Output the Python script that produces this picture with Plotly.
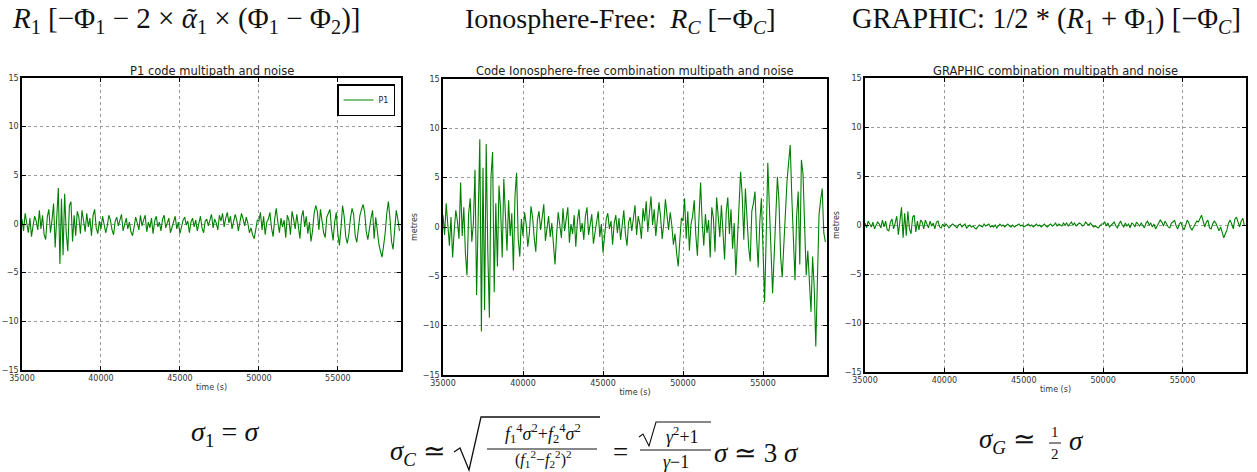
import plotly.graph_objects as go

W, H = 1257, 472

# ---------------- data ----------------
time_s = list(range(35000, 59000, 100))

p1_code = [
    0.5, -0.7, 1.1, 0.2, -0.9, 0.6, -1.3, -0.2, 0.8, 0.3,
    -0.6, 1.4, -0.5, 0.9, -1.1, -1.6, 0.7, 1.5, -0.9, 0.4,
    2.1, -2.4, 1.5, 3.7, -4.1, 2.6, -3.2, 3.1, -0.9, -2.8,
    1.9, 2.3, -1.8, 0.9, -1.2, 1.3,
    0.7, -1.0, 1.4, 0.2, -0.8, 1.1, -0.3, 0.6, -1.2, 0.9, 1.5, -0.4, -1.0, 0.3,
    -0.5, 0.8, 0.1, -0.9, -0.2, 0.9, 0.4, -0.6, -1.1, 0.3,
    0.7, -0.2, 0.4, 1.0, -0.7, -0.1, 0.6, -0.5, 0.2, -0.8,
    -1.2, -0.3, 0.7, 0.1, -0.6, 0.9, -0.2, 0.4, 0.9, -0.8,
    0.2, -0.4, 0.6, -1.0, 0.3, 0.8, -0.3, 0.2, -0.7, 0.5,
    0.9, -0.4, 0.1, 0.6, -0.9, -0.3, 0.4, 0.8, -0.5, 0.2,
    -1.0, -0.4, 0.4, 0.7, -0.1, 0.3, -0.9, 0.2, 0.6, -0.3,
    0.4, -0.7, 0.1, 0.8, -0.4, -0.9, 0.3, 0.5, -0.2, 0.3,
    1.0, -0.4, 0.5, 0.1, -0.6, 0.9, 0.3, 1.1, -0.3, 0.6,
    1.2, 0.1, 0.8, -0.5, 0.3, 1.0, 0.4, -0.7, 0.2, 1.1,
    0.5, -0.2, 0.7, 0.1, -0.9, -0.4, -1.1, -1.5, -0.6, 0.4,
    0.3, 1.2, -0.6, 0.8, -1.1, 0.2, 0.5, 1.2, -0.4, -1.3,
    0.5, 1.6, 0.2, -0.9, 0.6, -0.3, 0.4, -1.4, 0.9, 0.4,
    -1.1, 1.3, 0.5, -0.5, 1.0, -0.2, -1.5, 0.7, 1.4, -0.3,
    0.8, -1.0, 0.2, -1.8, -0.7, 1.1, 1.9, 1.3, -0.6, 1.5,
    0.4, -0.9, -1.4, 0.7, 1.1, 1.5, -0.5, -1.7, 0.2, 1.2,
    -1.0, -2.2, -0.4, 1.9, 0.8, -1.3, -2.0, -1.0, 0.6, 1.6,
    1.0, -1.2, -1.9, -0.6, 0.9, 1.5, 2.0, 1.2, -0.8, -1.6,
    -0.4, 0.6, 1.4, -1.5, 0.7, -0.9, -2.1, -2.8, -3.4, -2.2,
    -0.9, 1.1, 2.3, 0.6, -1.8, -2.6, -0.8, 1.4, 0.5, -0.7,
]

iono_free = [
    1.2, -0.8, 2.4, 0.5, -1.9, 1.0, -3.1, -0.4, 1.7, 0.6,
    -1.2, 4.5, -0.9, 2.0, -2.6, -4.9, 1.3, 2.9, -1.5, 0.4,
    5.8, -6.9, 3.2, 8.9, -10.6, 6.0, -8.4, 8.4, -2.5, -9.2,
    5.1, 7.6, -6.6, 2.4, -4.0, 4.2,
    1.8, -3.1, 4.9, 0.6, -2.4, 2.7, -0.9, 1.4, -4.4, 3.2, 5.5, -1.2, -3.0, 0.8,
    -0.9, 1.5, 0.3, -2.0, -0.6, 2.1, 1.0, -1.1, -2.5, 0.7,
    1.6, -0.3, 0.9, 2.3, -1.4, -0.2, 1.1, -1.0, 0.4, -1.7,
    -3.8, -0.8, 1.5, 0.2, -1.1, 1.9, -0.4, 0.8, 2.0, -1.6,
    0.3, -0.7, 1.2, -2.0, 0.6, 1.8, -0.5, 0.4, -1.3, 1.1,
    2.0, -0.8, 0.2, 1.3, -1.7, -0.6, 0.9, 1.6, -1.0, 0.3,
    -2.6, -0.9, 0.8, 1.4, -0.2, 0.6, -1.8, 0.4, 1.2, -0.6,
    0.9, -1.3, 0.2, 1.7, -0.7, -1.9, 0.5, 1.0, -0.4, 0.7,
    2.2, -0.8, 1.1, 0.3, -1.2, 1.9, 0.6, 2.6, -0.5, 1.4,
    3.1, 0.2, 1.8, -0.9, 0.7, 2.5, 1.0, -1.2, 0.4, 2.8,
    1.2, -0.3, 1.5, 0.2, -1.8, -0.7, -2.6, -4.0, -1.4, 0.9,
    0.6, 2.9, -1.2, 1.6, -2.4, 0.3, 1.1, 2.7, -0.8, -2.9,
    1.0, 4.5, 0.4, -1.9, 1.3, -0.6, 0.7, -3.1, 2.0, 0.9,
    -2.5, 3.0, 1.1, -1.0, 2.2, -0.4, -3.3, 1.5, 3.0, -0.7,
    1.8, -2.2, 0.4, -4.9, -1.6, 2.4, 5.6, 3.2, -1.3, 3.9,
    0.8, -2.0, -3.5, 1.6, 2.4, 3.6, -1.0, -4.1, 0.5, 2.9,
    -2.2, -7.6, -1.0, 6.5, 2.0, -3.4, -6.7, -2.8, 1.4, 5.1,
    2.6, -3.0, -5.1, -1.5, 2.4, 4.6, 6.5, 8.3, 3.1, -2.0,
    -5.4, 1.0, 3.6, -3.8, 6.8, 5.4, 1.2, -4.9, -2.4, -5.2,
    -8.6, -3.0, -6.1, -12.1, -4.0, 1.2, 2.7, 3.9, -0.6, -1.5,
]

graphic = [
    0.2, -0.3, 0.4, 0.1, -0.2, 0.3, -0.4, 0.0, 0.3, 0.1,
    -0.3, 0.5, -0.2, 0.4, -0.5, -0.6, 0.3, 0.6, -0.4, 0.2,
    0.9, -1.0, 0.7, 1.8, -1.3, 1.2, -1.1, 1.4, -0.4, -0.9,
    0.8, 1.0, -0.7, 0.4, -0.5, 0.5,
    0.3, -0.4, 0.5, 0.1, -0.3, 0.4, -0.1, 0.2, -0.4, 0.3, 0.4, -0.2, -0.3, 0.1,
    -0.2, 0.1, -0.1, -0.3, -0.1, 0.1, 0.0, -0.2, -0.3, 0.0,
    0.1, -0.2, 0.0, 0.1, -0.3, -0.1, 0.0, -0.2, -0.1, -0.3,
    -0.4, -0.2, 0.0, -0.1, -0.2, 0.1, -0.1, 0.0, 0.1, -0.2,
    -0.1, -0.2, 0.0, -0.3, -0.1, 0.1, -0.1, 0.0, -0.2, 0.0,
    0.1, -0.1, -0.2, 0.0, -0.2, -0.1, 0.0, 0.1, -0.1, 0.0,
    -0.2, -0.1, 0.0, 0.1, -0.1, 0.0, -0.2, 0.0, 0.1, -0.1,
    0.0, -0.2, 0.0, 0.1, -0.1, -0.2, 0.0, 0.1, -0.1, 0.0,
    0.2, -0.1, 0.1, 0.0, -0.1, 0.2, 0.0, 0.2, -0.1, 0.1,
    0.3, 0.0, 0.2, -0.1, 0.1, 0.2, 0.1, -0.1, 0.0, 0.3,
    0.1, 0.0, 0.2, 0.0, -0.2, -0.1, -0.2, -0.3, -0.1, 0.1,
    0.1, 0.3, -0.1, 0.2, -0.2, 0.0, 0.1, 0.3, -0.1, -0.3,
    0.1, 0.4, 0.0, -0.2, 0.2, -0.1, 0.1, -0.3, 0.2, 0.1,
    -0.2, 0.3, 0.1, -0.1, 0.2, 0.0, -0.3, 0.2, 0.4, 0.0,
    0.2, -0.2, 0.1, -0.4, -0.1, 0.3, 0.5, 0.3, -0.1, 0.4,
    0.1, -0.2, -0.3, 0.2, 0.3, 0.5, -0.1, -0.4, 0.1, 0.3,
    -0.2, -0.5, 0.0, 0.5, 0.2, -0.3, -0.5, -0.2, 0.2, 0.4,
    0.3, 0.6, 1.0, 0.4, -0.2, 0.3, 0.5, -0.3, -0.4, 0.1,
    0.4, 0.2, -0.3, -0.6, -0.2, -0.8, -1.3, -0.9, -0.5, 0.2,
    0.5, 0.1, -0.4, 0.6, 0.8, 0.3, -0.2, 0.4, 0.7, -0.1,
]

x_ticks = [35000, 40000, 45000, 50000, 55000]
y_ticks = [-15, -10, -5, 0, 5, 10, 15]
x_range = [35000, 59000]
y_range = [-15, 15]

panel_titles = [
    "P1 code multipath and noise",
    "Code Ionosphere-free combination multipath and noise",
    "GRAPHIC combination multipath and noise",
]
header_titles = [
    "<i>R</i><sub>1</sub> [−Φ<sub>1</sub> − 2 × <i>ᾶ</i><sub>1</sub> × (Φ<sub>1</sub> − Φ<sub>2</sub>)]",
    "Ionosphere-Free:  <i>R<sub>C</sub></i> [−Φ<sub><i>C</i></sub>]",
    "GRAPHIC: 1/2 * (<i>R</i><sub>1</sub> + Φ<sub>1</sub>) [−Φ<sub><i>C</i></sub>]",
]

# ---------------- layout helpers ----------------
def px(x):
    return x / W


def py(y):
    return 1 - y / H


# panel boxes in pixels: (left, right, top, bottom)
boxes = [(22, 401, 78, 370), (443, 827, 79, 375), (865, 1246, 78, 372)]
series = [p1_code, iono_free, graphic]
ylabels = [None, "metres", "metres"]

GREEN = "#008000"
tickfont = dict(family="DejaVu Sans", size=8, color="#333")

fig = go.Figure()
annotations = []
shapes = []

for k, (vals, box) in enumerate(zip(series, boxes), start=1):
    sx = "" if k == 1 else str(k)
    fig.add_trace(go.Scatter(
        x=time_s, y=vals, mode="lines", name="P1",
        line=dict(color=GREEN, width=1.1),
        showlegend=(k == 1),
        xaxis="x" + sx, yaxis="y" + sx,
    ))
    l, r, t, b = box
    common = dict(
        showline=True, mirror="allticks", linecolor="black", linewidth=1.5,
        ticks="inside", ticklen=4, tickwidth=1, tickcolor="black",
        showgrid=True, gridcolor="#9a9a9a", griddash="dot", gridwidth=1,
        zeroline=False, tickfont=tickfont, automargin=False,
    )
    fig.update_layout(**{
        "xaxis" + sx: dict(
            common, domain=[px(l), px(r)], range=x_range,
            tickvals=x_ticks, ticktext=[str(v) for v in x_ticks],
            anchor="y" + sx,
            title=dict(text="time (s)", font=dict(family="DejaVu Sans", size=8, color="#333"), standoff=2),
        ),
        "yaxis" + sx: dict(
            common, domain=[py(b), py(t)], range=y_range,
            tickvals=y_ticks, anchor="x" + sx,
            title=dict(text=ylabels[k - 1] or "", font=dict(family="DejaVu Sans", size=8, color="#333"), standoff=4),
        ),
    })
    # panel title
    annotations.append(dict(
        x=px((l + r) / 2), y=py(71), xref="paper", yref="paper",
        text=panel_titles[k - 1], showarrow=False, xanchor="center", yanchor="middle",
        font=dict(family="DejaVu Sans", size=11.5, color="#222"),
    ))

# header formulas
header_x = [186, 620, 1046]
header_sizes = [29, 28, 28.5]
for hx, hs, txt_ in zip(header_x, header_sizes, header_titles):
    annotations.append(dict(
        x=px(hx), y=py(20), xref="paper", yref="paper", text=txt_, showarrow=False,
        xanchor="center", yanchor="middle",
        font=dict(family="Liberation Serif", size=hs, color="#111"),
    ))

SERIF = "Liberation Serif"


def txt(x, y, s, size, anchor="center"):
    annotations.append(dict(
        x=px(x), y=py(y), xref="paper", yref="paper", text=s, showarrow=False,
        xanchor=anchor, yanchor="middle",
        font=dict(family=SERIF, size=size, color="#111"),
    ))


def line(x0, y0, x1, y1, w=1.3):
    shapes.append(dict(type="line", xref="paper", yref="paper",
                       x0=px(x0), y0=py(y0), x1=px(x1), y1=py(y1),
                       line=dict(color="#111", width=w)))


def path(points, w=1.3):
    d = "M " + " L ".join(f"{px(a)},{py(c)}" for a, c in points)
    shapes.append(dict(type="path", xref="paper", yref="paper", path=d,
                       line=dict(color="#111", width=w)))


# bottom-left formula
txt(225, 433, "<i>σ</i><sub>1</sub> = <i>σ</i>", 28)

# bottom-right formula
txt(977, 441, "<i>σ<sub>G</sub></i> ≃", 27, anchor="left")
txt(1055, 432, "1", 15)
line(1049, 443, 1061, 443, 1.0)
txt(1055, 454, "2", 15)
txt(1067, 441, "<i>σ</i>", 27, anchor="left")

# bottom-middle formula
txt(388, 453, "<i>σ<sub>C</sub></i> ≃", 27, anchor="left")
path([(454, 452), (460, 448), (469, 470), (481, 417), (600, 417)])
txt(543, 433, "<i>f</i><sub>1</sub><sup>4</sup><i>σ</i><sup>2</sup>+<i>f</i><sub>2</sub><sup>4</sup><i>σ</i><sup>2</sup>", 18)
line(487, 449, 597, 449, 1.1)
txt(543, 459, "(<i>f</i><sub>1</sub><sup>2</sup>−<i>f</i><sub>2</sub><sup>2</sup>)<sup>2</sup>", 16)
txt(620, 452, "=", 27)
path([(639, 437), (643, 434), (649, 446), (656, 422), (711, 422)], 1.1)
txt(682, 435, "<i>γ</i><sup>2</sup>+1", 18)
line(640, 450, 711, 450, 1.1)
txt(676, 462, "<i>γ</i>−1", 18)
txt(712, 453, "<i>σ</i> ≃ 3 <i>σ</i>", 27, anchor="left")

fig.update_layout(
    width=W, height=H,
    margin=dict(l=0, r=0, t=0, b=0),
    paper_bgcolor="white", plot_bgcolor="white",
    template="none",
    annotations=annotations, shapes=shapes,
    showlegend=True,
    legend=dict(
        x=px(395), y=py(84), xanchor="right", yanchor="top",
        bordercolor="black", borderwidth=1.5, bgcolor="white",
        font=dict(family="DejaVu Sans", size=8, color="#222"),
        itemwidth=30, tracegroupgap=0,
    ),
)

fig.write_html("out.html")
